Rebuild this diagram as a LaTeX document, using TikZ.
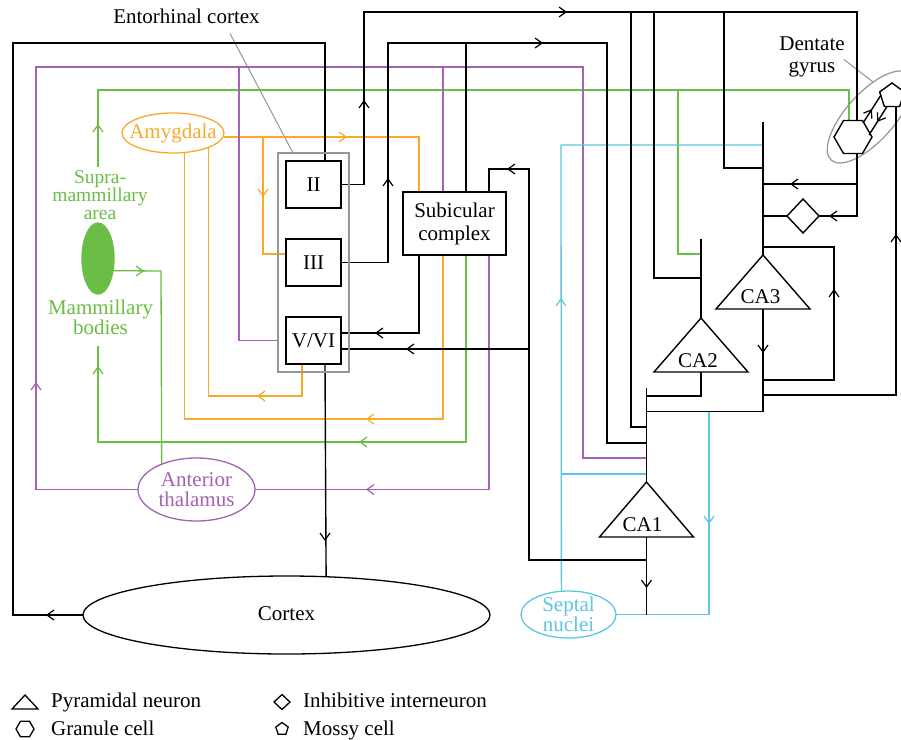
\documentclass[tikz,border=0pt]{standalone}
\usepackage{fontspec}
\setmainfont{Liberation Serif}
\usetikzlibrary{shapes.geometric,calc}
\pgfdeclarelayer{bg}
\pgfsetlayers{bg,main}
\definecolor{cOr}{RGB}{247,170,40}
\definecolor{cGr}{RGB}{106,189,69}
\definecolor{cPu}{RGB}{163,98,178}
\definecolor{cCy}{RGB}{94,197,226}
\definecolor{cGy}{RGB}{150,150,150}
\newcommand{\myfsz}[2]{\fontsize{#1}{#2}\selectfont\lineskiplimit=-30pt\relax}
\newcommand{\myfs}[1]{\myfsz{21}{#1}}
\tikzset{
  ln/.style={line width=1.4pt,black},
  lo/.style={line width=1.3pt,cOr},
  lg/.style={line width=1.3pt,cGr},
  lp/.style={line width=1.3pt,cPu},
  lc/.style={line width=1.3pt,cCy},
  gy/.style={line width=1pt,cGy},
  chev/.pic={\draw[line width=1.2pt] (-7,-5) -- (0,0) -- (-7,5);},
  txt/.style={inner sep=0pt,align=center},
  box/.style={draw,line width=1.4pt,fill=white,inner sep=0pt,outer sep=0pt,minimum width=55pt,minimum height=47pt},
  ell/.style={draw,ellipse,inner sep=-4pt,outer sep=0pt,align=center,line width=1.3pt},
  poly/.style={draw,fill=white,line width=1.4pt,inner sep=0pt,outer sep=0pt},
}
\begin{document}
\begin{tikzpicture}[x=1pt,y=-1pt,font={\myfs{22}},line join=miter]
\useasboundingbox (0,0) rectangle (901,739);
\begin{pgfonlayer}{bg}
\fill[white] (0,0) rectangle (901,739);
\end{pgfonlayer}

% ---------- nodes ----------
\node[draw=cGy,line width=1.2pt,minimum width=71pt,minimum height=219pt,inner sep=0pt,outer sep=0pt] (ent) at (313.5,262.5) {};
\node[box] (II) at (313.5,184.5) {II};
\node[box] (III) at (313.5,262.5) {III};
\node[box] (VVI) at (313.5,340.5) {V/VI};
\node[box,minimum width=103pt,minimum height=63pt,align=center,font={\myfs{23}}] (sub) at (454.5,223.5) {Subicular\\complex};
\node[ell,cOr,inner xsep=-12pt,minimum width=102pt,minimum height=40pt] (amyg) at (173,133) {Amygdala};
\node[ell,draw=cGr,fill=cGr,minimum width=32pt,minimum height=71pt] (mam) at (98,258.5) {};
\node[txt,cGr,font={\myfsz{19.5}{18}}] (supra) at (100,195.4) {Supra-\\mammillary\\area};
\node[txt,cGr,font={\myfs{19.3}}] (mamtxt) at (100.5,317.4) {Mammillary\\bodies};
\node[ell,cPu,minimum width=117pt,minimum height=63pt,font={\myfs{20}}] (ath) at (196.5,489.5) {Anterior\\thalamus};
\node[ell,black,minimum width=407pt,minimum height=78pt] (cortex) at (286.5,615) {\raisebox{3pt}{Cortex}};
\node[ell,cCy,minimum width=95pt,minimum height=47pt,font={\myfs{20}}] (sept) at (568.5,614.5) {Septal\\nuclei};
\node[txt,anchor=base] (ectx) at (186.5,23) {Entorhinal cortex};
\node[txt,font={\myfs{22}}] (dglab) at (812,56.4) {Dentate\\gyrus};
\node[poly,diamond,minimum width=32pt,minimum height=34pt] (dia) at (803,216) {};
\node[poly,regular polygon,regular polygon sides=6,minimum size=38pt] (hex) at (853,137) {};
\node[poly,regular polygon,regular polygon sides=5,minimum size=26pt] (pent) at (892,96) {};

% triangle coordinates
\coordinate (CA3t) at (763,255); \coordinate (CA3b) at (763,309);
\coordinate (CA2t) at (701,318); \coordinate (CA2b) at (701,372);
\coordinate (CA1t) at (646.5,482); \coordinate (CA1b) at (646.5,537);
\draw[ln,fill=white] (CA3t) -- ++(47,54) -- ++(-94,0) -- cycle;
\draw[ln,fill=white] (CA2t) -- ++(47,54) -- ++(-94,0) -- cycle;
\draw[ln,fill=white] (CA1t) -- ++(47,55) -- ++(-94,0) -- cycle;
\node[txt,anchor=base] (CA3) at (760.5,303) {CA3};
\node[txt,anchor=base] (CA2) at (698,367) {CA2};
\node[txt,anchor=base] (CA1) at (642.5,531) {CA1};

\begin{pgfonlayer}{bg}
\node[draw=cGy,line width=1.2pt,ellipse,minimum width=116pt,minimum height=48pt,rotate=48,inner sep=0pt] (dg) at (870,117) {};
% ---------- gray leaders ----------
\coordinate (dgtip) at (873,82);
\draw[gy] ([xshift=43.5pt,yshift=-10pt]ectx.south) -- ([xshift=-20.5pt]ent.north);
\draw[gy] ([xshift=-1pt,yshift=-3pt]dglab.east) -- (dgtip);

% ---------- orange ----------
\draw[lo] ([yshift=-4pt]amyg.east) -- (419,137) -- ([xshift=-35.5pt]sub.north);
\draw[lo] (263,137) -- (263,254) -- ([yshift=8.5pt]III.west);
\draw[lo] ([xshift=-11.5pt]VVI.south) -- (302,396) -| (amyg.-22.5);
\draw[lo] ([xshift=-11.5pt]sub.south) -- (443,419) -| (amyg.-60.6);
\pic[cOr] at (346,137) {chev};
\pic[cOr,rotate=-90] at (263,196) {chev};
\pic[cOr,rotate=180] at (258,396) {chev};
\pic[cOr,rotate=180] at (367,419) {chev};

% ---------- green ----------
\draw[lg] ([xshift=-2pt,yshift=4pt]supra.north) -- (98,90) -- (849,90) -- ([xshift=-4pt]hex.north);
\draw[lg] (678,90) -- (678,254) -- (701,254);
\draw[lg] (mam.-39.8) -- (161,271) -- (ath.144.8);
\draw[lg] ([xshift=11.5pt]sub.south) -- (466,442) -- (98,442) -- ([xshift=-2.5pt,yshift=-11pt]mamtxt.south);
\pic[cGr,rotate=90] at (98,125) {chev};
\pic[cGr] at (143,271) {chev};
\pic[cGr,rotate=180] at (360,442) {chev};
\pic[cGr,rotate=90] at (98,367) {chev};

% ---------- purple ----------
\draw[lp] (ath.west) -- (36,489.5) -- (36,67) -- (583,67) -- (583,458) -- (646.5,458);
\draw[lp] (239,67) -- (239,340.5) -- (ent.west |- VVI);
\draw[lp] (443,67) -- ([xshift=-11.5pt]sub.north);
\draw[lp] ([xshift=34.5pt]sub.south) -- (489,489.5) -- (ath.east);
\pic[cPu,rotate=90] at (36,383) {chev};
\pic[cPu,rotate=180] at (367,489.5) {chev};

% ---------- cyan ----------
\draw[lc] (sept.107.9) -- (561,145) -- (763,145);
\draw[lc] (561,474) -- (646.5,474);
\draw[lc] (709,411.5) -- (709,614.5) -- (sept.east);
\pic[cCy,rotate=90] at (561,299) {chev};
\pic[cCy,rotate=-90] at (709,523) {chev};

% ---------- black ----------
\draw[ln] (cortex.west) -- (13,615) -- (13,43) -- (325,43) -- ([xshift=11.5pt]II.north);
\draw[ln] (II.east) -- (364,184.5) -- (364,12) -- (857,12) -- (857,216) -- (dia.east);
\draw[ln] (857,184) -- (763,184);
\draw[ln] (dia.west) -- (763,216);
\draw[ln] (631,12) -- (631,427) -- (646.5,427);
\draw[ln] (654,12) -- (654,278) -- (701,278);
\draw[ln] (724,12) -- (724,168) -- (763,168);
\draw[ln] (III.east) -- (388,262.5) -- (388,43) -- (607,43) -- (607,443) -- (646.5,443);
\draw[ln] ([xshift=11.5pt]sub.north) -- (466,43);
\draw[ln] (763,122) -- (CA3t);
\draw[ln] (763,247) -- (834,247) -- (834,380) -- (763,380);
\draw[ln] (CA3b) -- (763,411.5) -- (646.5,411.5);
\draw[ln] (763,395) -- (896,395) -- (pent.south -| 896,0);
\draw[ln] (701,239) -- (CA2t);
\draw[ln] (CA2b) -- (701,396) -- (646.5,396);
\draw[ln] (646.5,388) -- (CA1t);
\draw[ln] (CA1b) -- (646.5,614.5);
\draw[ln] (646.5,560) -- (529,560) -- (529,169) -- (489,169) -- ([xshift=34.5pt]sub.north);
\draw[ln] (529,349) -- ([yshift=-8.5pt]VVI.east);
\draw[ln] ([xshift=-35.5pt]sub.south) -- (419,333) -- ([yshift=7.5pt]VVI.east);
\draw[ln] ([xshift=11.5pt]VVI.south) -- (cortex.44.85);
\pic[rotate=180] at (47,615) {chev};
\pic[rotate=90] at (364,101) {chev};
\pic at (566,12) {chev};
\pic[rotate=90] at (388,179) {chev};
\pic at (542,43) {chev};
\pic[rotate=180] at (508,169) {chev};
\pic[rotate=180] at (376,333) {chev};
\pic[rotate=180] at (407,349) {chev};
\pic[rotate=180] at (791,184) {chev};
\pic[rotate=180] at (830,216) {chev};
\pic[rotate=90] at (834,290) {chev};
\pic[rotate=-90] at (763,352) {chev};
\pic[rotate=90] at (896,235) {chev};
\pic[rotate=-90] at (646.5,587) {chev};
\pic[rotate=-90] at (325,540) {chev};
\end{pgfonlayer}

% dentate internal connectors
\coordinate (hA) at (863,123); \coordinate (pA) at (881,95);
\coordinate (hB) at (869,135); \coordinate (pB) at (887,106.5);
\draw[ln] (hA) -- (pA);
\draw[ln] (hB) -- (pB);
\pic[rotate=57] at (871.4,110) {chev};
\pic[rotate=237] at (877.8,121) {chev};

% ---------- legend ----------
\draw[line width=1.3pt] (25,695) -- (38,709) -- (12,709) -- cycle;
\node[txt,anchor=base west] (lg1) at (51,707) {Pyramidal neuron};
\node[poly,line width=1.3pt,regular polygon,regular polygon sides=6,minimum size=18pt] (lhex) at (25,729) {};
\node[txt,anchor=base west] (lg2) at (51,735) {Granule cell};
\node[poly,line width=1.3pt,diamond,minimum width=16pt,minimum height=15pt] (ldia) at (282,702) {};
\node[txt,anchor=base west] (lg3) at (303,707) {Inhibitive interneuron};
\node[poly,line width=1.3pt,regular polygon,regular polygon sides=5,minimum size=13pt] (lpent) at (282,729) {};
\node[txt,anchor=base west] (lg4) at (303,735) {Mossy cell};
\end{tikzpicture}
\end{document}
